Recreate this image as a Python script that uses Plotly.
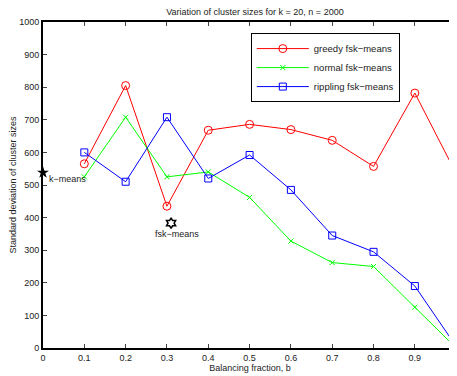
import plotly.graph_objects as go

b = [0.1, 0.2, 0.3, 0.4, 0.5, 0.6, 0.7, 0.8, 0.9, 1.0]
greedy = [565, 805, 435, 668, 686, 670, 637, 557, 782, 535]
normal = [525, 708, 525, 540, 462, 328, 262, 250, 125, 0]
rippling = [600, 510, 708, 520, 592, 485, 345, 295, 190, 5]
kmeans_pt = (0, 538)
fsk_pt = (0.31, 383)
xticks = [0, 0.1, 0.2, 0.3, 0.4, 0.5, 0.6, 0.7, 0.8, 0.9, 1.0]
xticklabels = ["0", "0.1", "0.2", "0.3", "0.4", "0.5", "0.6", "0.7", "0.8", "0.9", ""]
yticks = [0, 100, 200, 300, 400, 500, 600, 700, 800, 900, 1000]

FONT = "Liberation Sans, Arial, sans-serif"
fig = go.Figure()
fig.add_trace(go.Scatter(x=b, y=greedy, name="greedy fsk\u2212means", mode="lines+markers",
                         line=dict(color="#ff0000", width=1),
                         marker=dict(symbol="circle-open", size=8, color="#ff0000")))
fig.add_trace(go.Scatter(x=b, y=normal, name="normal fsk\u2212means", mode="lines+markers",
                         line=dict(color="#00ff00", width=1),
                         marker=dict(symbol="x-thin-open", size=5, color="#00ff00", line=dict(width=1, color="#00ff00"))))
fig.add_trace(go.Scatter(x=b, y=rippling, name="rippling fsk\u2212means", mode="lines+markers",
                         line=dict(color="#0000ff", width=1),
                         marker=dict(symbol="square-open", size=7, color="#0000ff")))
fig.add_trace(go.Scatter(x=[kmeans_pt[0]], y=[kmeans_pt[1]], mode="markers", showlegend=False,
                         marker=dict(symbol="star", size=9, color="black"), cliponaxis=False))
fig.add_trace(go.Scatter(x=[fsk_pt[0]], y=[fsk_pt[1]], mode="markers", showlegend=False,
                         marker=dict(symbol="hexagram-open", size=8, color="black", line=dict(width=1.5, color="black"))))

fig.add_annotation(x=0.01, y=518, text="k\u2212means", showarrow=False, xanchor="left",
                   font=dict(size=9, color="#222", family=FONT))
fig.add_annotation(x=0.324, y=350, text="fsk\u2212means", showarrow=False, xanchor="center",
                   font=dict(size=9, color="#222", family=FONT))

fig.update_layout(
    width=449, height=368,
    margin=dict(l=35, r=0, t=14, b=28, autoexpand=False),
    paper_bgcolor="white", plot_bgcolor="white",
    font=dict(family=FONT, size=9, color="#222"),
    title=dict(text="Variation of cluster sizes for k = 20, n = 2000", x=0.55, xanchor="center",
               y=0.997, yanchor="top", font=dict(size=9, family=FONT)),
    legend=dict(x=0.502, y=0.966, xanchor="left", yanchor="top", bgcolor="white",
                bordercolor="black", borderwidth=1, font=dict(size=9.5, family=FONT),
                itemwidth=52, tracegroupgap=0),
    xaxis=dict(range=[0, 1.002], tickvals=xticks, ticktext=xticklabels, ticks="inside", ticklen=4,
               showline=True, linecolor="black", linewidth=2, mirror="ticks", showgrid=False,
               zeroline=False, automargin=False,
               title=dict(text="Balancing fraction, b", standoff=2, font=dict(size=9))),
    yaxis=dict(range=[0, 1000], tickvals=yticks, ticks="inside", ticklen=4,
               showline=True, linecolor="black", linewidth=2, mirror="ticks", showgrid=False,
               zeroline=False, automargin=False,
               title=dict(text="Standard deviation of cluster sizes", standoff=4, font=dict(size=9))),
)
fig.write_html("out.html")
